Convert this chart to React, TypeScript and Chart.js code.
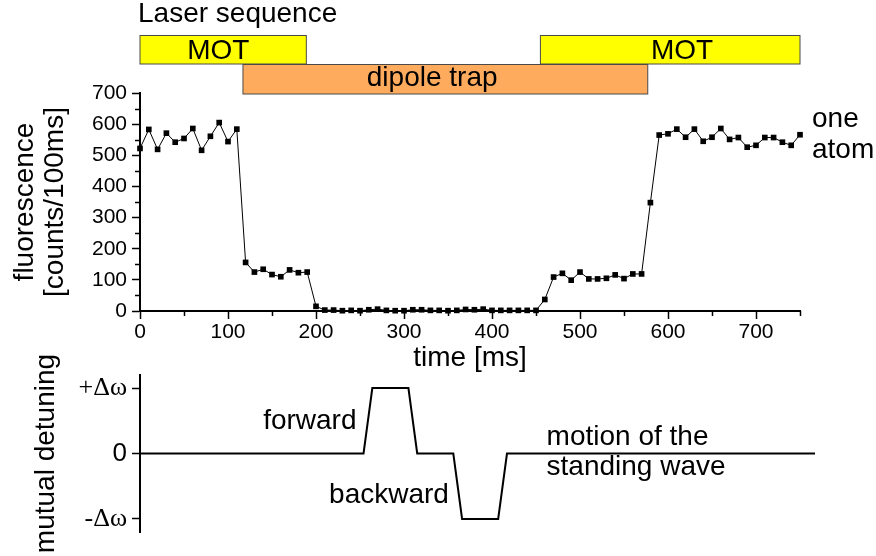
import React, { useEffect, useRef } from 'react';
import { Chart, registerables } from 'chart.js';

Chart.register(...registerables);

// ---------- data ----------
const timeMs = [
  0, 10, 20, 30, 40, 50, 60, 70, 80, 90, 100, 110, 120, 130, 140, 150, 160, 170, 180, 190,
  200, 210, 220, 230, 240, 250, 260, 270, 280, 290, 300, 310, 320, 330, 340, 350, 360, 370, 380, 390,
  400, 410, 420, 430, 440, 450, 460, 470, 480, 490, 500, 510, 520, 530, 540, 550, 560, 570, 580, 590,
  600, 610, 620, 630, 640, 650, 660, 670, 680, 690, 700, 710, 720, 730, 740, 750,
];
const fluorescence = [
  522, 583, 519, 571, 542, 554, 586, 516, 561, 605, 544, 584, 156, 125, 134, 117, 110, 132, 123, 125,
  15, 3, 3, 1, 2, 1, 4, 6, 2, 1, 1, 4, 4, 2, 2, 1, 2, 5, 4, 6,
  2, 2, 2, 2, 2, 2, 37, 109, 121, 99, 125, 103, 103, 105, 116, 104, 119, 119, 348, 565,
  569, 584, 558, 584, 545, 558, 586, 551, 557, 526, 532, 557, 557, 542, 532, 566,
];

const xTickValues = [0, 100, 200, 300, 400, 500, 600, 700];
const xMinorValues = [50, 150, 250, 350, 450, 550, 650, 750];
const yTickValues = [0, 100, 200, 300, 400, 500, 600, 700];
const yMinorValues = [50, 150, 250, 350, 450, 550, 650];

// laser sequence bars (ms)
const barLabels = ['MOT', 'dipole trap', 'MOT'];
const barStart = [0, 117, 455];
const barEnd = [189, 577, 750];
const barLabelAt = [89, 332, 616];
const barRow = [0, 1, 0];

// mutual detuning (ms, units of Δω)
const detTime = [0, 254, 264, 305, 315, 356, 366, 407, 417, 767];
const detValue = [0, 0, 1, 1, 0, 0, -1, -1, 0, 0];
const detTickValues = [-1, 0, 1];
const detTickLabels = ['-Δω', '0', '+Δω'];

// annotations on detuning chart: [text, ms, value, align]
const detNotes: [string, number, number, CanvasTextAlign][] = [
  ['forward', 246, 0.38, 'right'],
  ['backward', 351, -0.75, 'right'],
  ['motion of the', 462, 0.13, 'left'],
  ['standing wave', 462, -0.33, 'left'],
];

// ---------- styles ----------
const SANS = "'Liberation Sans', Arial, Helvetica, sans-serif";
const SERIF = "'Liberation Serif', 'Times New Roman', serif";
const MOT_COLOR = '#ffff00';
const DIPOLE_COLOR = '#ffab5e';

export default function App() {
  const topRef = useRef<HTMLCanvasElement | null>(null);
  const botRef = useRef<HTMLCanvasElement | null>(null);

  useEffect(() => {
    document.body.style.margin = '0';

    const mainDecor = {
      id: 'mainDecor',
      afterDraw(chart: any) {
        const ctx = chart.ctx as CanvasRenderingContext2D;
        const xs = chart.scales.x;
        const ys = chart.scales.y;
        const area = chart.chartArea;
        ctx.save();
        // minor ticks
        ctx.strokeStyle = '#000';
        ctx.lineWidth = 1.5;
        ctx.beginPath();
        for (const v of xMinorValues) {
          const px = Math.round(xs.getPixelForValue(v)) + 0.5;
          ctx.moveTo(px, area.bottom);
          ctx.lineTo(px, area.bottom + 5);
        }
        for (const v of yMinorValues) {
          const py = Math.round(ys.getPixelForValue(v)) + 0.5;
          ctx.moveTo(area.left - 5, py);
          ctx.lineTo(area.left, py);
        }
        ctx.stroke();

        // laser sequence bars
        const rowTop = [35.5, 64.5];
        const rowBot = [64, 94];
        const rowText = [51.5, 78];
        for (let i = 0; i < barLabels.length; i++) {
          const x1 = xs.getPixelForValue(barStart[i]);
          const x2 = xs.getPixelForValue(barEnd[i]);
          const r = barRow[i];
          ctx.fillStyle = barLabels[i] === 'MOT' ? MOT_COLOR : DIPOLE_COLOR;
          ctx.fillRect(x1, rowTop[r], x2 - x1, rowBot[r] - rowTop[r]);
          ctx.strokeStyle = '#4a4a4a';
          ctx.lineWidth = 1;
          ctx.strokeRect(x1, rowTop[r], x2 - x1, rowBot[r] - rowTop[r]);
        }
        ctx.fillStyle = '#000';
        ctx.font = `28px ${SANS}`;
        ctx.textAlign = 'center';
        ctx.textBaseline = 'middle';
        for (let i = 0; i < barLabels.length; i++) {
          ctx.fillText(barLabels[i], xs.getPixelForValue(barLabelAt[i]), rowText[barRow[i]]);
        }
        ctx.textAlign = 'left';
        ctx.textBaseline = 'alphabetic';
        ctx.fillText('Laser sequence', area.left - 2, 22);
        ctx.fillText('one', area.right + 12, 127);
        ctx.fillText('atom', area.right + 12, 158);
        ctx.restore();
      },
    };

    const mainChart = new Chart(topRef.current as HTMLCanvasElement, {
      type: 'line',
      data: {
        datasets: [
          {
            data: timeMs.map((t, i) => ({ x: t, y: fluorescence[i] })),
            borderColor: '#000',
            borderWidth: 1,
            pointStyle: 'rect',
            pointRadius: 4,
            pointBackgroundColor: '#000',
            pointBorderColor: '#000',
            pointBorderWidth: 0,
            tension: 0,
            clip: false as any,
          },
        ],
      },
      options: {
        animation: false,
        responsive: false,
        events: [],
        layout: { padding: { left: 0, right: 76, top: 93, bottom: 0 } },
        plugins: { legend: { display: false }, tooltip: { enabled: false } },
        scales: {
          x: {
            type: 'linear',
            min: 0,
            max: 750,
            afterBuildTicks: (s: any) => {
              s.ticks = xTickValues.map((v) => ({ value: v }));
            },
            afterFit: (s: any) => {
              s.height = 69;
            },
            grid: { drawOnChartArea: false, drawTicks: true, tickLength: 8, tickWidth: 1.5, tickColor: '#000' },
            border: { display: true, color: '#000', width: 2 },
            ticks: { color: '#000', font: { family: SANS, size: 21 }, padding: 1, maxRotation: 0, autoSkip: false },
            title: {
              display: true,
              text: 'time [ms]',
              color: '#000',
              font: { family: SANS, size: 28, lineHeight: 1.08 },
              padding: { top: 0, bottom: 6.5 },
            },
          },
          y: {
            type: 'linear',
            min: 0,
            max: 700,
            afterBuildTicks: (s: any) => {
              s.ticks = yTickValues.map((v) => ({ value: v }));
            },
            afterFit: (s: any) => {
              s.width = 140;
            },
            grid: { drawOnChartArea: false, drawTicks: true, tickLength: 8, tickWidth: 1.5, tickColor: '#000' },
            border: { display: true, color: '#000', width: 2 },
            ticks: { color: '#000', font: { family: SANS, size: 21 }, padding: 5, autoSkip: false },
            title: {
              display: true,
              text: ['fluorescence', '[counts/100ms]'],
              color: '#000',
              font: { family: SANS, size: 28, lineHeight: 1.08 },
              padding: { top: 9.7, bottom: 0 },
            },
          },
        },
      },
      plugins: [mainDecor],
    } as any);

    const detDecor = {
      id: 'detDecor',
      afterDraw(chart: any) {
        const ctx = chart.ctx as CanvasRenderingContext2D;
        const xs = chart.scales.x;
        const ys = chart.scales.y;
        ctx.save();
        ctx.fillStyle = '#000';
        ctx.font = `28px ${SANS}`;
        ctx.textBaseline = 'alphabetic';
        for (const [text, ms, val, align] of detNotes) {
          ctx.textAlign = align;
          ctx.fillText(text, xs.getPixelForValue(ms), ys.getPixelForValue(val));
        }
        ctx.restore();
      },
    };

    const detChart = new Chart(botRef.current as HTMLCanvasElement, {
      type: 'line',
      data: {
        datasets: [
          {
            data: detTime.map((t, i) => ({ x: t, y: detValue[i] })),
            borderColor: '#000',
            borderWidth: 2,
            pointRadius: 0,
            tension: 0,
            clip: false as any,
          },
        ],
      },
      options: {
        animation: false,
        responsive: false,
        events: [],
        layout: { padding: { left: 0, right: 61, top: 35, bottom: 24 } },
        plugins: { legend: { display: false }, tooltip: { enabled: false } },
        scales: {
          x: { type: 'linear', min: 0, max: 767, display: false },
          y: {
            type: 'linear',
            min: -1.2,
            max: 1.2,
            afterBuildTicks: (s: any) => {
              s.ticks = detTickValues.map((v) => ({ value: v }));
            },
            afterFit: (s: any) => {
              s.width = 140;
            },
            grid: { drawOnChartArea: false, drawTicks: true, tickLength: 8, tickWidth: 1.5, tickColor: '#000' },
            border: { display: true, color: '#000', width: 2 },
            ticks: {
              color: '#000',
              padding: 5,
              autoSkip: false,
              font: (c: any) => ({
                family: c.tick && c.tick.value === 0 ? SANS : SERIF,
                size: 26,
              }),
              callback: (v: any) => {
                const idx = detTickValues.indexOf(Number(v));
                return idx >= 0 ? detTickLabels[idx] : '';
              },
            },
            title: {
              display: true,
              text: 'mutual detuning',
              color: '#000',
              font: { family: SANS, size: 28, lineHeight: 1.08 },
              padding: { top: 31.2, bottom: 0 },
            },
          },
        },
      },
      plugins: [detDecor],
    } as any);

    return () => {
      mainChart.destroy();
      detChart.destroy();
    };
  }, []);

  return (
    <div style={{ position: 'absolute', left: 0, top: 0, width: 876, height: 556, background: '#fff' }}>
      <canvas
        ref={topRef}
        width={876}
        height={380}
        style={{ position: 'absolute', left: 0, top: 0, width: 876, height: 380 }}
      />
      <canvas
        ref={botRef}
        width={876}
        height={216}
        style={{ position: 'absolute', left: 0, top: 340, width: 876, height: 216 }}
      />
    </div>
  );
}
